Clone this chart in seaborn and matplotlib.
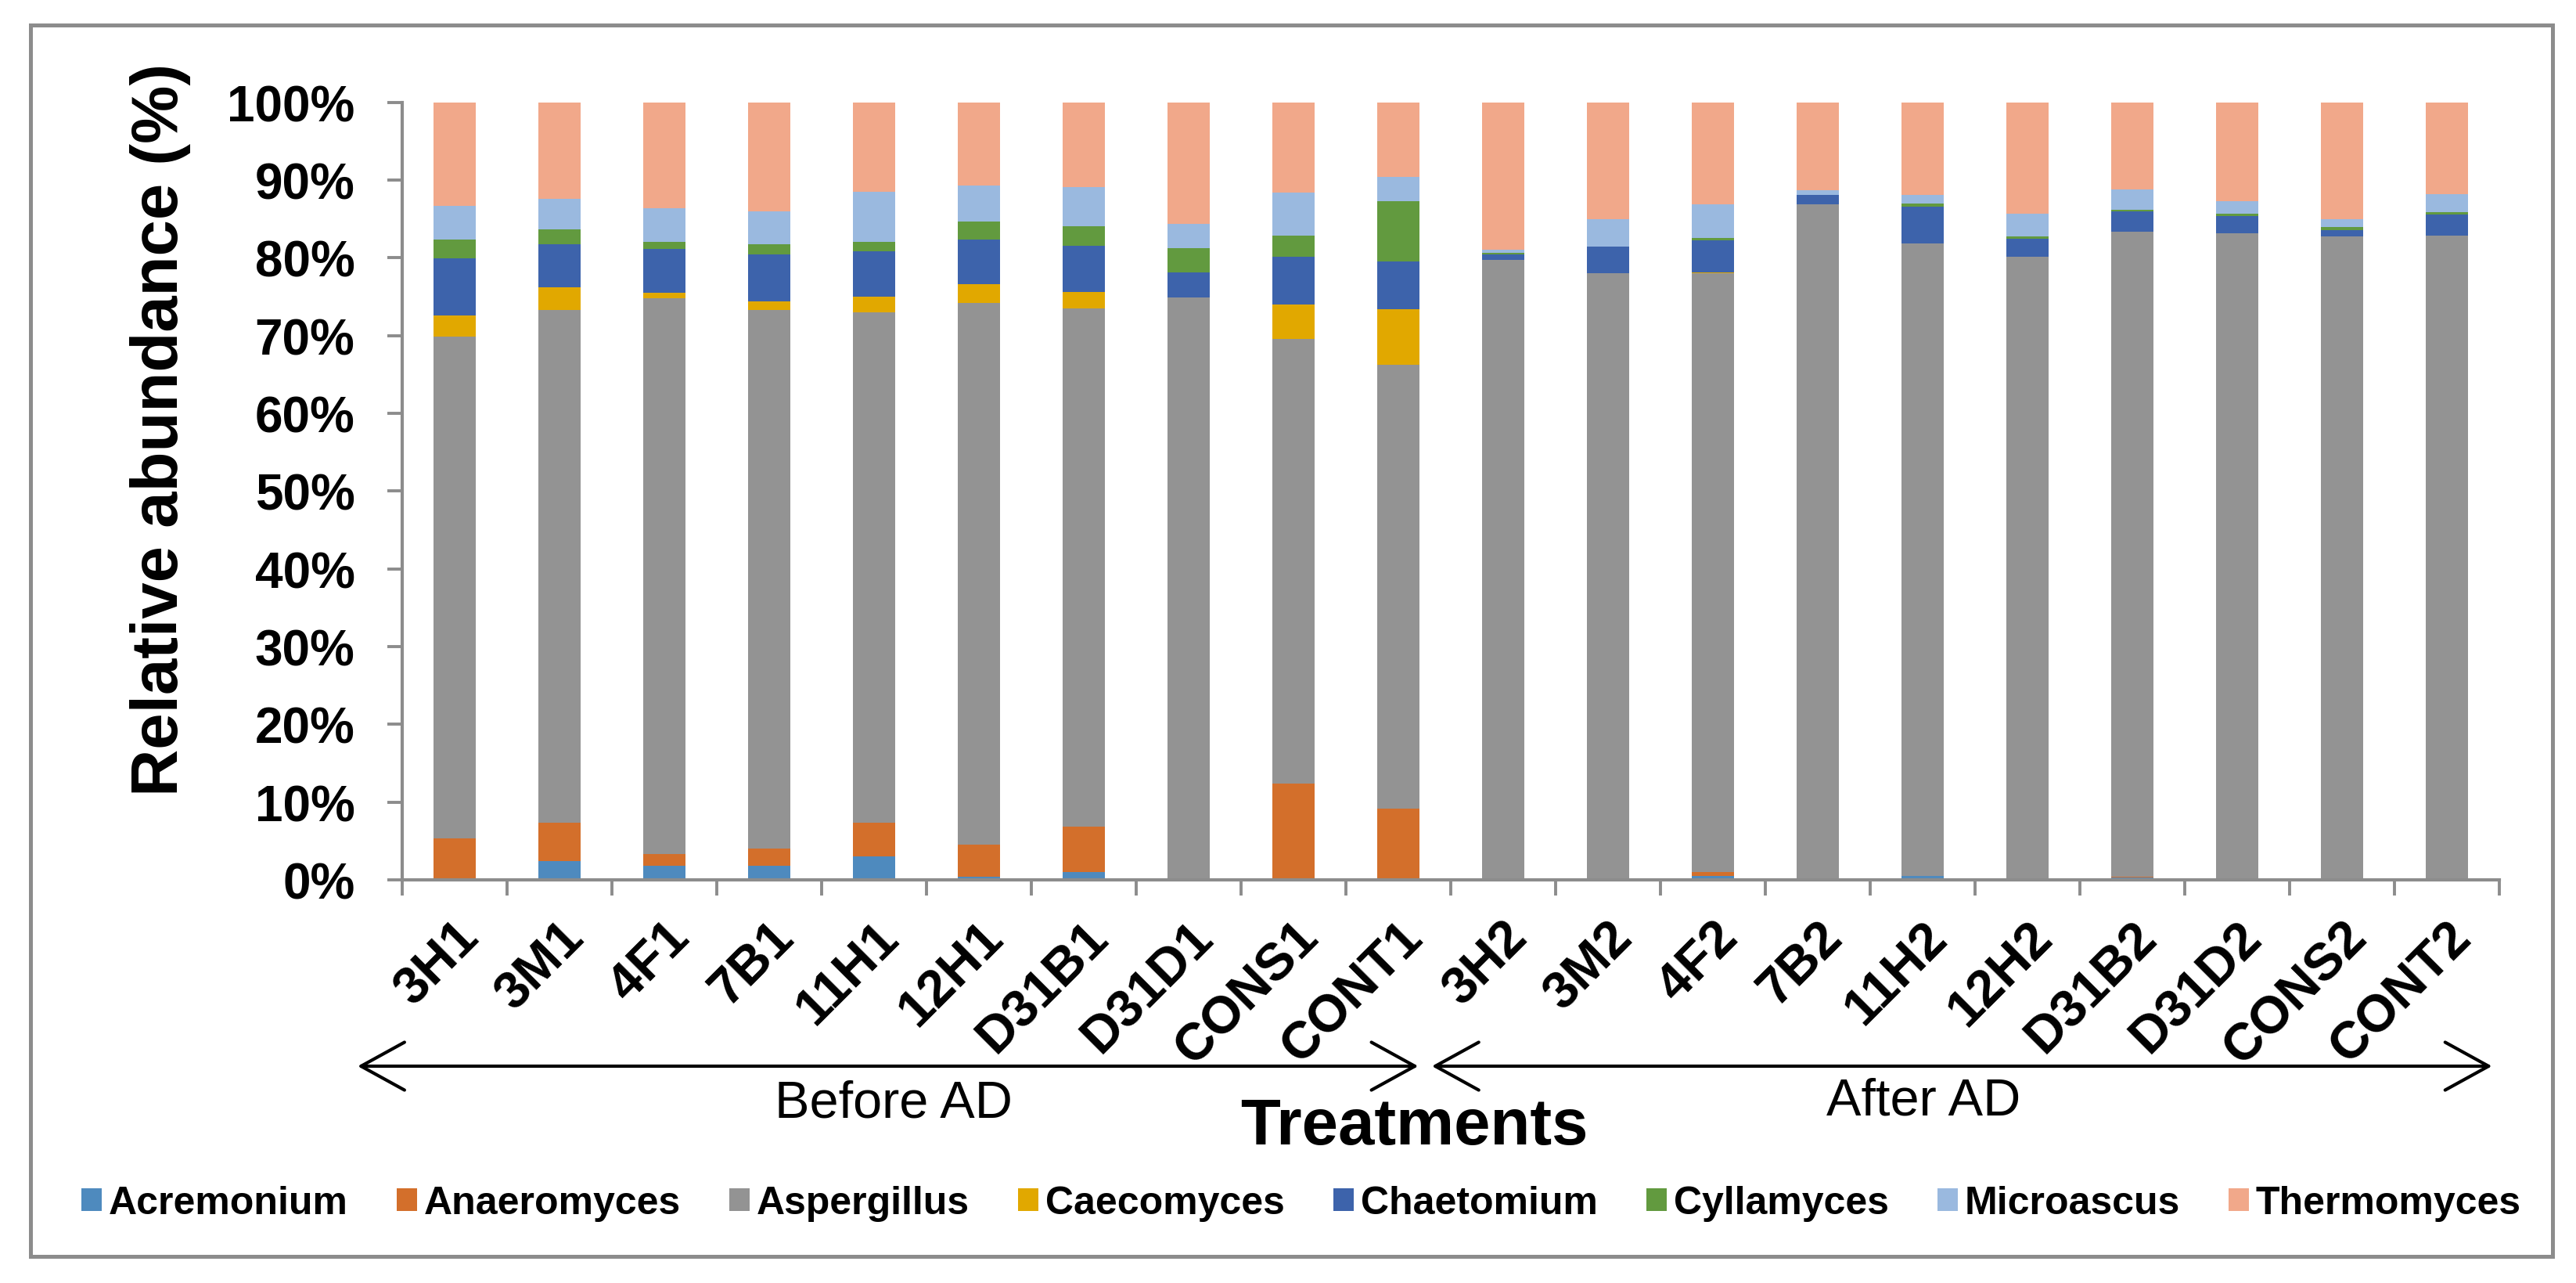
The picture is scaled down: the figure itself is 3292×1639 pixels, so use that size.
import matplotlib
matplotlib.use("Agg")
import pandas as pd
import matplotlib.pyplot as plt
import seaborn as sns
from matplotlib.patches import FancyArrowPatch, Rectangle, Patch, ArrowStyle
from matplotlib.ticker import FixedLocator, FuncFormatter

# ------------------------------
# Data (relative abundance, %)
# ------------------------------
samples = ["3H1", "3M1", "4F1", "7B1", "11H1", "12H1", "D31B1", "D31D1", "CONS1", "CONT1",
           "3H2", "3M2", "4F2", "7B2", "11H2", "12H2", "D31B2", "D31D2", "CONS2", "CONT2"]

acremonium = [0.0, 2.4, 1.8, 1.8, 3.0, 0.4, 1.0, 0.0, 0.0, 0.0,
              0.0, 0.0, 0.5, 0.0, 0.5, 0.0, 0.3, 0.0, 0.0, 0.0]
anaeromyces = [5.3, 4.9, 1.5, 2.2, 4.3, 4.1, 5.8, 0.0, 12.4, 9.2,
               0.0, 0.0, 0.5, 0.0, 0.0, 0.2, 0.1, 0.2, 0.0, 0.2]
aspergillus = [64.6, 66.0, 71.5, 69.4, 65.7, 69.7, 66.7, 74.9, 57.2, 57.0,
               79.7, 78.0, 77.2, 86.9, 81.3, 79.9, 83.0, 82.9, 82.7, 82.5]
caecomyces = [2.8, 2.9, 0.7, 1.1, 2.0, 2.4, 2.1, 0.0, 4.4, 7.2,
              0.0, 0.0, 0.2, 0.0, 0.0, 0.0, 0.0, 0.0, 0.0, 0.0]
chaetomium = [7.3, 5.5, 5.6, 6.0, 5.8, 5.7, 5.9, 3.2, 6.1, 6.1,
              0.7, 3.4, 4.1, 1.2, 4.8, 2.3, 2.6, 2.3, 0.9, 2.7]
cyllamyces = [2.4, 2.0, 0.9, 1.3, 1.2, 2.4, 2.6, 3.1, 2.7, 7.8,
              0.2, 0.0, 0.3, 0.0, 0.4, 0.3, 0.2, 0.3, 0.4, 0.3]
microascus = [4.4, 3.9, 4.4, 4.3, 6.5, 4.6, 5.0, 3.2, 5.6, 3.1,
              0.4, 3.6, 4.3, 0.6, 1.1, 3.0, 2.6, 1.6, 1.0, 2.3]
thermomyces = [13.3, 12.4, 13.6, 14.0, 11.5, 10.7, 10.9, 15.6, 11.6, 9.6,
               19.0, 15.0, 13.2, 11.3, 11.9, 14.3, 11.2, 12.7, 15.0, 11.8]

genera = ["Acremonium", "Anaeromyces", "Aspergillus", "Caecomyces",
          "Chaetomium", "Cyllamyces", "Microascus", "Thermomyces"]
colors = ["#4E8ABE", "#D36F2B", "#939393", "#E1A800",
          "#3D63AB", "#629A3F", "#9AB9DF", "#F1A88A"]

df = pd.DataFrame({
    "Acremonium": acremonium,
    "Anaeromyces": anaeromyces,
    "Aspergillus": aspergillus,
    "Caecomyces": caecomyces,
    "Chaetomium": chaetomium,
    "Cyllamyces": cyllamyces,
    "Microascus": microascus,
    "Thermomyces": thermomyces,
}, index=samples)

# normalise each sample to 100 % and stack
df = df.div(df.sum(axis=1), axis=0) * 100
cum = df.cumsum(axis=1).reset_index(names="Sample")

# ------------------------------
# Plot
# ------------------------------
sns.set_theme(style="white")
plt.rcParams["font.family"] = ["Liberation Sans", "DejaVu Sans"]
plt.rcParams["text.color"] = "black"

W, H = 3292, 1640
fig = plt.figure(figsize=(W / 200, H / 200), dpi=200)
ax = fig.add_axes([514 / W, 1 - 1125 / H, (3194 - 514) / W, (1125 - 131.6) / H])

# stacked bars: draw cumulative totals from the top layer down
for genus, col in zip(reversed(genera), reversed(colors)):
    sns.barplot(data=cum, x="Sample", y=genus, order=samples, color=col,
                width=0.4, saturation=1, errorbar=None, linewidth=0, ax=ax)

grey = "#8C8C8C"
ax.set_xlim(-0.5, len(samples) - 0.5)
ax.set_ylim(0, 100)
for side in ["top", "right"]:
    ax.spines[side].set_visible(False)
for side in ["left", "bottom"]:
    ax.spines[side].set_color(grey)
    ax.spines[side].set_linewidth(1.5)

ax.yaxis.set_major_locator(FixedLocator(range(0, 101, 10)))
ax.yaxis.set_major_formatter(FuncFormatter(lambda v, p: f"{v:.0f}%"))
ax.tick_params(axis="y", which="major", direction="out", length=6.8, width=1.4,
               color=grey, labelcolor="black", pad=15, labelsize=23, left=True)
for t in ax.get_yticklabels():
    t.set_fontweight("bold")

ax.set_xticks(range(len(samples)))
ax.set_xticklabels(samples, rotation=45, ha="right", va="top",
                   rotation_mode="anchor", fontsize=24, fontweight="bold")
ax.xaxis.set_minor_locator(FixedLocator([i - 0.5 for i in range(len(samples) + 1)]))
ax.tick_params(axis="x", which="major", length=0, pad=15, labelcolor="black")
ax.tick_params(axis="x", which="minor", direction="out", length=7.2, width=1.4,
               color=grey, bottom=True)
ax.set_xlabel("")
ax.set_ylabel("")

# group arrows and labels under the axis
trans = ax.get_xaxis_transform()
arrow_y = (1125 - 1363) / (1125 - 131.6)
for x0, x1 in [(-0.925, 9.19), (9.32, 19.43)]:
    arr = FancyArrowPatch((x0, arrow_y), (x1, arrow_y), transform=trans,
                          arrowstyle=ArrowStyle("<->", head_length=20, head_width=11),
                          mutation_scale=1, lw=1.5, color="black",
                          shrinkA=0, shrinkB=0, clip_on=False)
    ax.add_patch(arr)

ax.text(4.19, (1125 - 1428) / (1125 - 131.6), "Before AD", transform=trans,
        ha="center", va="baseline", fontsize=24, clip_on=False)
ax.text(14.01, (1125 - 1425) / (1125 - 131.6), "After AD", transform=trans,
        ha="center", va="baseline", fontsize=24, clip_on=False)
ax.text(9.15, (1125 - 1462) / (1125 - 131.6), "Treatments", transform=trans,
        ha="center", va="baseline", fontsize=30, fontweight="bold", clip_on=False)

fig.text(205 / W, 1 - 549 / H, "Relative abundance (%)", rotation=90,
         ha="center", va="center", fontsize=30, fontweight="bold")

# legend
handles = [Patch(facecolor=c, edgecolor="none") for c in colors]
fig.legend(handles, genera, ncol=8, loc="center",
           bbox_to_anchor=(1663 / W, 1 - 1538 / H), frameon=False,
           prop={"size": 18, "weight": "bold"},
           handlelength=0.52, handleheight=0.52, handletextpad=0.18,
           columnspacing=1.24, borderpad=0, borderaxespad=0)

# chart border
fig.patches.append(Rectangle((39 / W, 1 - 1606 / H), (3262 - 39) / W, (1606 - 33) / H,
                             transform=fig.transFigure, fill=False,
                             edgecolor=grey, lw=1.8))

fig.savefig("out.png", dpi=200, facecolor="white")
